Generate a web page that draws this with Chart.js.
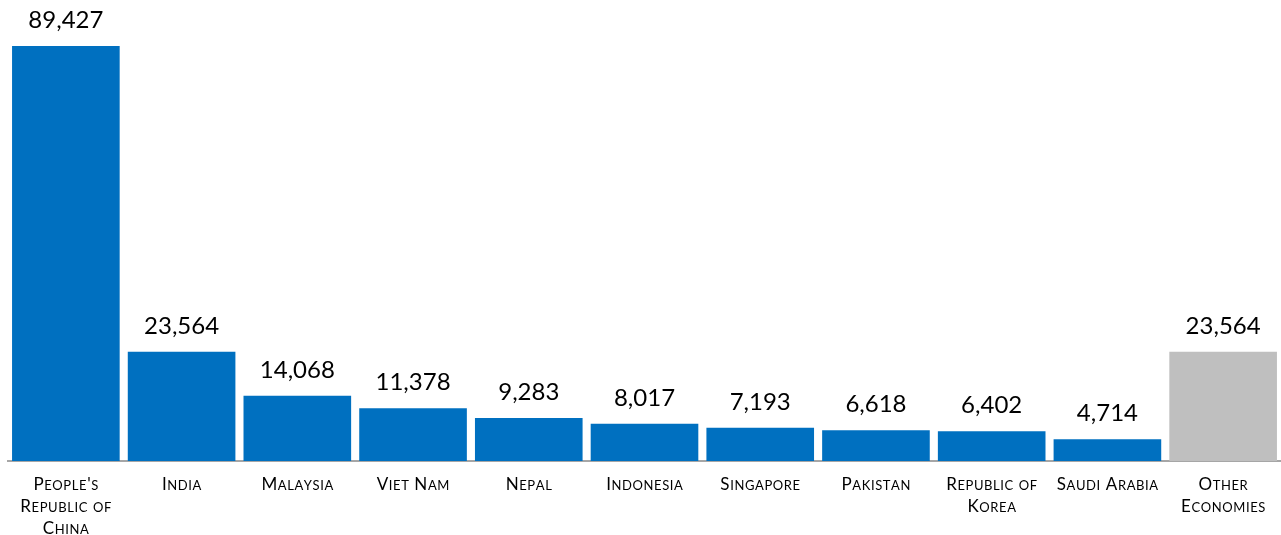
<!DOCTYPE html>
<html>
<head>
<meta charset="utf-8">
<script src="https://cdn.jsdelivr.net/npm/chart.js@4"></script>
<style>
  html, body { margin: 0; padding: 0; background: #fff; }
  #wrap { width: 1281px; height: 535px; }
</style>
</head>
<body>
<div id="wrap"><canvas id="barChart"></canvas></div>
<script>
const economies = [
  ["People's", 'Republic of', 'China'],
  ['India'],
  ['Malaysia'],
  ['Viet Nam'],
  ['Nepal'],
  ['Indonesia'],
  ['Singapore'],
  ['Pakistan'],
  ['Republic of', 'Korea'],
  ['Saudi Arabia'],
  ['Other', 'Economies']
];
const counts = [89427, 23564, 14068, 11378, 9283, 8017, 7193, 6618, 6402, 4714, 23564];
const barColors = counts.map((v, i) => i === counts.length - 1 ? '#BFBFBF' : '#0070C0');

const BIG = 17, SMALL = 13, FAMILY = 'Lato';

// draws a line of text in small caps, centred on x
function drawSmallCaps(c, text, x, y) {
  const parts = [...text].map(ch => {
    const lower = ch !== ch.toUpperCase();
    return { ch: ch.toUpperCase(), size: lower ? SMALL : BIG };
  });
  const spacing = 0.6;
  let total = 0;
  parts.forEach(p => {
    c.font = p.size + 'px ' + FAMILY;
    p.w = c.measureText(p.ch).width;
    total += p.w + spacing;
  });
  total -= spacing;
  let cx = x - total / 2;
  parts.forEach(p => {
    c.font = p.size + 'px ' + FAMILY;
    c.fillText(p.ch, cx, y);
    cx += p.w + spacing;
  });
}

const categoryLabels = {
  id: 'categoryLabels',
  afterDraw(chart) {
    const c = chart.ctx;
    const xScale = chart.scales.x;
    c.save();
    c.fillStyle = '#000';
    c.textAlign = 'left';
    c.textBaseline = 'alphabetic';
    economies.forEach((lines, i) => {
      const x = xScale.getPixelForTick(i);
      lines.forEach((line, j) => {
        drawSmallCaps(c, line, x, chart.chartArea.bottom + 29 + j * 22);
      });
    });
    c.restore();
  }
};

// value labels above each bar
const valueLabels = {
  id: 'valueLabels',
  afterDatasetsDraw(chart) {
    const c = chart.ctx;
    const meta = chart.getDatasetMeta(0);
    c.save();
    c.font = '24px ' + FAMILY;
    c.fillStyle = '#000';
    c.textAlign = 'center';
    c.textBaseline = 'alphabetic';
    meta.data.forEach((bar, i) => {
      c.fillText(counts[i].toLocaleString('en-US'), bar.x, bar.y - 18);
    });
    c.restore();
  }
};

const ctx = document.getElementById('barChart').getContext('2d');
new Chart(ctx, {
  type: 'bar',
  data: {
    labels: economies.map(l => l.join(' ')),
    datasets: [{
      data: counts,
      backgroundColor: barColors,
      borderWidth: 0,
      categoryPercentage: 1,
      barPercentage: 0.93
    }]
  },
  options: {
    responsive: true,
    maintainAspectRatio: false,
    animation: false,
    layout: { padding: { left: 8, right: 0, top: 0, bottom: 66 } },
    plugins: {
      legend: { display: false },
      tooltip: { enabled: false }
    },
    scales: {
      x: {
        grid: { display: false },
        border: { display: true, color: '#A6A6A6', width: 2 },
        ticks: { display: false }
      },
      y: {
        display: false,
        min: 0,
        max: 99363
      }
    }
  },
  plugins: [valueLabels, categoryLabels]
});
</script>
</body>
</html>
